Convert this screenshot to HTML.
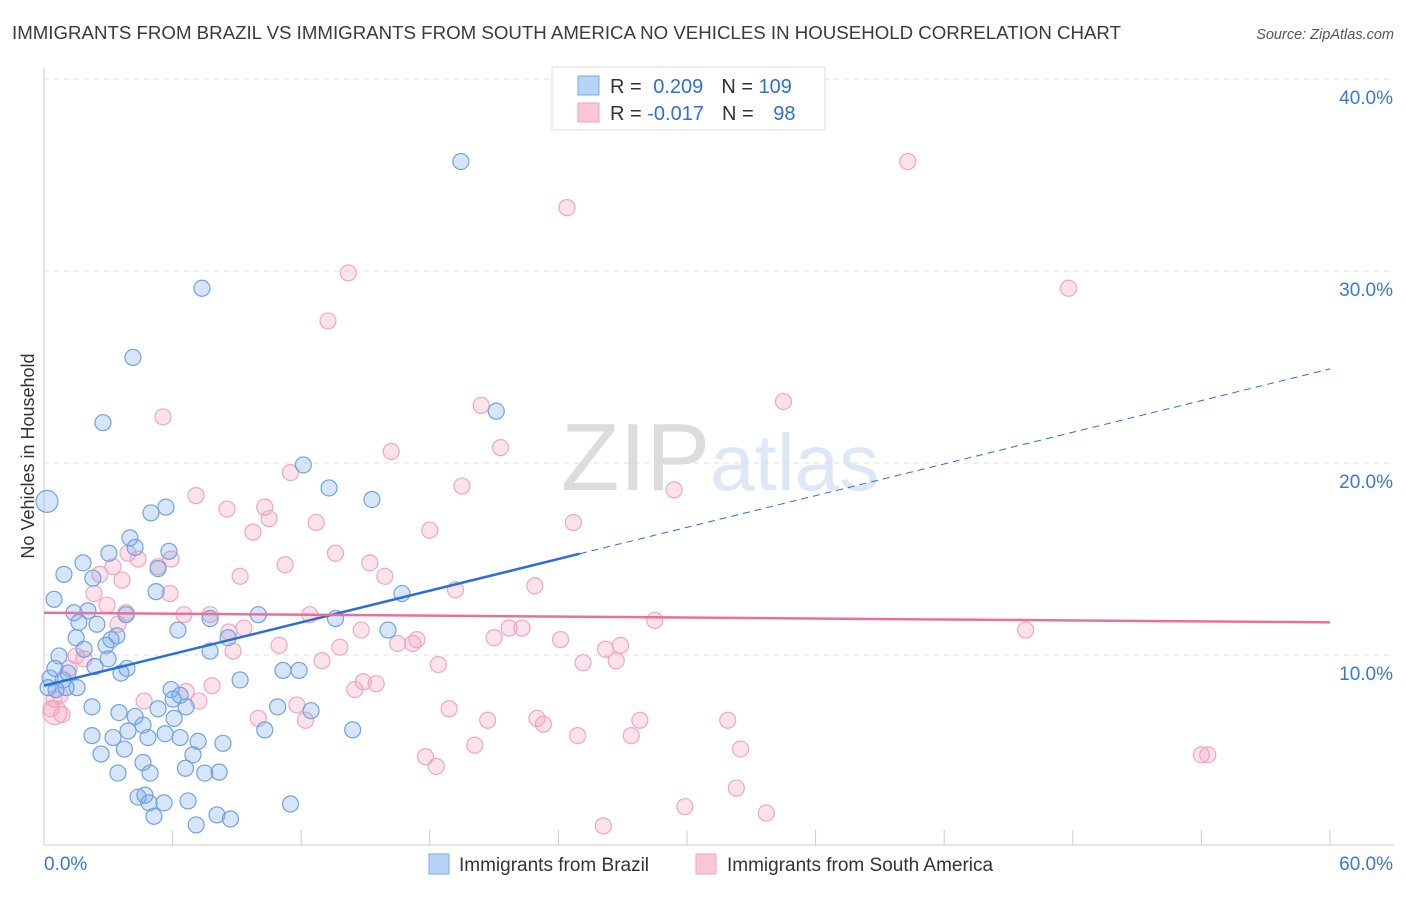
<!DOCTYPE html>
<html><head><meta charset="utf-8"><style>
body{margin:0;background:#fff;font-family:"Liberation Sans",sans-serif;}
svg text{font-family:"Liberation Sans",sans-serif;}
</style></head><body>
<svg id="chart" width="1406" height="892" xmlns="http://www.w3.org/2000/svg">
<text x="12" y="39" font-size="18" fill="#3a3a3a" textLength="1109" lengthAdjust="spacingAndGlyphs">IMMIGRANTS FROM BRAZIL VS IMMIGRANTS FROM SOUTH AMERICA NO VEHICLES IN HOUSEHOLD CORRELATION CHART</text>
<text x="1394" y="39" font-size="14.5" fill="#555" font-style="italic" text-anchor="end">Source: ZipAtlas.com</text>
<text x="720" y="490" font-size="96" fill="#e4e4e4" text-anchor="middle" font-family="Liberation Serif"><tspan fill="#dcdcdc">ZIP</tspan><tspan fill="#dce8f6" font-family="Liberation Sans" font-size="80">atlas</tspan></text>
<g id="grid"></g>
<g id="axes"></g>
<g id="pts"></g>
<g id="trend"></g>
<text transform="translate(34,456) rotate(-90)" font-size="18" fill="#333" text-anchor="middle">No Vehicles in Household</text>
<g>
<rect x="552" y="67" width="273" height="63" fill="#fff" stroke="#ddd"/>
<rect x="578" y="76" width="21" height="19" fill="#b8d4f5" stroke="#7aa8e0"/>
<rect x="578" y="103" width="21" height="19" fill="#fbc6d6" stroke="#f0a0bc"/>
<text x="610" y="93" font-size="20" fill="#333">R = <tspan fill="#2f6fd0" dx="6">0.209</tspan><tspan dx="18" fill="#333">N = </tspan><tspan fill="#2f6fd0">109</tspan></text>
<text x="610" y="120" font-size="20" fill="#333">R = <tspan fill="#2f6fd0">-0.017</tspan><tspan dx="18" fill="#333">N = </tspan><tspan fill="#2f6fd0" dx="14">98</tspan></text>
</g>
<g>
<rect x="429" y="854" width="20" height="20" fill="#b8d4f5" stroke="#7aa8e0"/>
<text x="459" y="871" font-size="19" fill="#333">Immigrants from Brazil</text>
<rect x="696" y="854" width="20" height="20" fill="#fbc6d6" stroke="#f0a0bc"/>
<text x="727" y="871" font-size="19" fill="#333">Immigrants from South America</text>
</g>
</svg>
<script>
const yTicks=[10,20,30,40];
const yTickLabels=["10.0%","20.0%","30.0%","40.0%"];
const xTickLabels=["0.0%","60.0%"];
const blueX=[19.45,7.37,4.15,2.75,21.1,12.1,13.3,15.3,0.14,5.69,4.99,4.01,4.25,3.03,5.83,1.82,0.93,2.28,5.32,0.47,5.23,16.7,1.4,2.05,3.83,10.0,13.6,1.63,2.47,7.75,6.25,16.05,3.4,1.5,3.13,8.59,1.87,2.89,7.75,0.7,2.99,2.38,3.87,0.51,11.15,11.9,1.12,3.59,0.28,0.89,9.15,0.19,0.56,1.03,1.54,5.93,6.35,6.02,6.63,2.24,10.9,12.46,5.32,3.5,4.25,6.07,10.3,14.4,4.62,3.92,2.24,3.22,4.85,5.65,6.35,7.19,8.35,3.75,2.66,6.95,4.62,6.6,3.45,4.95,7.5,8.17,4.39,4.71,5.6,4.9,6.72,11.5,5.13,7.1,8.07,8.7];
const blueY=[35.7,29.1,25.5,22.1,22.7,19.9,18.7,18.1,18.0,17.7,17.4,16.1,15.6,15.3,15.4,14.8,14.2,14.0,14.5,12.9,13.3,13.2,12.2,12.3,12.1,12.1,11.9,11.7,11.6,11.9,11.3,11.3,11.0,10.9,10.8,10.9,10.3,10.5,10.2,9.95,9.8,9.4,9.3,9.3,9.2,9.2,9.06,9.06,8.8,8.7,8.7,8.3,8.2,8.3,8.3,8.2,7.9,7.7,7.3,7.3,7.3,7.1,7.2,7.0,6.8,6.7,6.1,6.1,6.35,6.04,5.8,5.7,5.7,5.9,5.7,5.5,5.4,5.1,4.84,4.8,4.4,4.1,3.85,3.85,3.85,3.9,2.6,2.7,2.3,2.3,2.4,2.24,1.6,1.15,1.67,1.46];
const pinkX=[40.3,24.4,14.2,47.8,13.25,5.55,20.4,34.5,16.2,21.3,11.5,19.5,29.4,7.09,10.3,8.54,10.5,12.7,24.7,18.0,9.75,3.92,13.6,4.39,11.25,15.2,3.22,5.32,5.93,2.61,9.15,15.9,3.64,22.9,5.88,19.2,2.33,2.94,6.53,7.75,3.83,12.4,28.5,3.45,9.33,8.63,14.8,21.7,22.3,45.8,21.0,24.1,17.4,17.2,16.5,10.97,13.8,26.9,8.82,1.5,1.87,26.2,12.97,25.15,26.7,18.4,1.17,14.9,15.5,14.5,7.84,6.63,0.75,7.23,4.67,11.8,0.47,0.33,18.9,0.84,0.51,10.0,12.2,20.7,23.0,27.8,31.9,23.3,20.1,24.9,27.4,32.5,17.8,18.3,54.0,54.3,32.3,29.9,33.7,26.1];
const pinkY=[35.7,33.3,29.9,29.1,27.4,22.4,23.0,23.2,20.6,20.8,19.5,18.8,18.6,18.3,17.7,17.6,17.1,16.9,16.9,16.5,16.4,15.3,15.3,15.0,14.7,14.8,14.6,14.6,15.0,14.2,14.1,14.1,13.9,13.6,13.2,13.4,13.2,12.6,12.1,12.1,12.2,12.1,11.8,11.6,11.4,11.2,11.3,11.4,11.4,11.3,10.9,10.8,10.8,10.6,10.6,10.5,10.4,10.5,10.2,9.95,9.8,10.3,9.7,9.6,9.7,9.5,9.3,8.6,8.5,8.2,8.4,8.1,7.9,7.6,7.6,7.4,7.7,7.2,7.2,6.9,7.0,6.7,6.6,6.6,6.7,6.6,6.6,6.4,5.3,5.8,5.8,5.1,4.7,4.2,4.8,4.8,3.07,2.1,1.77,1.1];
const blueTrend=[8.4,24.9];
const pinkTrend=[12.2,11.7];
const NS="http://www.w3.org/2000/svg";
const X0=44,X1=1330,Y0=847,PXY=19.2;
function sx(v){return X0+(X1-X0)*v/60;}
function sy(v){return Y0-v*PXY;}
function mk(tag,attrs,parent){const e=document.createElementNS(NS,tag);for(const k in attrs)e.setAttribute(k,attrs[k]);parent.appendChild(e);return e;}
const grid=document.getElementById('grid'),axes=document.getElementById('axes');
yTicks.forEach((t,i)=>{
 const l=mk('line',{x1:X0,x2:1394,y1:sy(t),y2:sy(t),stroke:'#ddd','stroke-dasharray':'5,5'},grid);
 
 
 const tx=mk('text',{x:1393,y:sy(t)+25,'font-size':19,fill:'#3a78d0','text-anchor':'end'},axes);
 tx.textContent=yTickLabels[i];
 
 
});
const ax=mk('line',{x1:X0,x2:1394,y1:845,y2:845,stroke:'#ccc'},axes);


const ay=mk('line',{x1:X0,x2:X0,y1:68,y2:845,stroke:'#ccc'},axes);


for(let i=0;i<=10;i++){const x=sx(i*6);const t=mk('line',{x1:x,x2:x,y1:830,y2:845,stroke:'#ccc'},axes);
 
 }
const xl0=mk('text',{x:44,y:870,'font-size':19,fill:'#3a78d0'},axes);xl0.textContent=xTickLabels[0];


const xl1=mk('text',{x:1393,y:870,'font-size':19,fill:'#3a78d0','text-anchor':'end'},axes);xl1.textContent=xTickLabels[1];


const pts=document.getElementById('pts');
pinkX.forEach((v,i)=>{const c=mk('circle',{cx:sx(v),cy:sy(pinkY[i]),r:i==80?12:8,fill:'rgba(244,160,188,0.3)',stroke:'#f0a6c0','stroke-width':1.2},pts);
 
 });
blueX.forEach((v,i)=>{const c=mk('circle',{cx:sx(v),cy:sy(blueY[i]),r:i==8?11:8,fill:'rgba(120,170,235,0.3)',stroke:'#6fa3e0','stroke-width':1.2},pts);
 
 });
const tr=document.getElementById('trend');
const bmid=blueTrend[0]+(blueTrend[1]-blueTrend[0])*25/60;
const b1=mk('line',{x1:sx(0),y1:sy(blueTrend[0]),x2:sx(25),y2:sy(bmid),stroke:'#2a6fd6','stroke-width':2.5},tr);


const b2=mk('line',{x1:sx(25),y1:sy(bmid),x2:sx(60),y2:sy(blueTrend[1]),stroke:'#2a6fd6','stroke-width':1,'stroke-dasharray':'7,5'},tr);


const p1=mk('line',{x1:sx(0),y1:sy(pinkTrend[0]),x2:sx(60),y2:sy(pinkTrend[1]),stroke:'#e8709a','stroke-width':2.5},tr);


</script>
</body></html>
